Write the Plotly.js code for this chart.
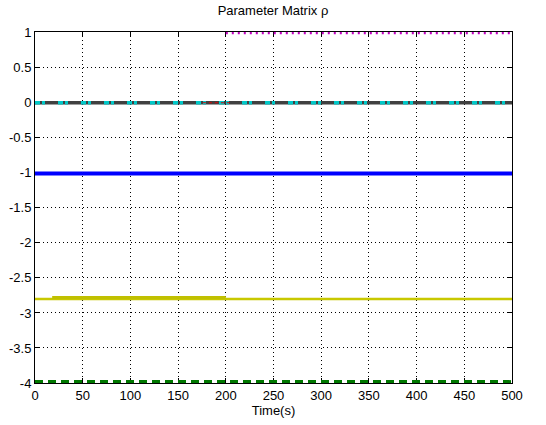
<!DOCTYPE html>
<html>
<head>
<meta charset="utf-8">
<script src="https://cdn.plot.ly/plotly-3.0.1.min.js"></script>
<style>
  html, body { margin: 0; padding: 0; background: #fff; }
  #plot { width: 546px; height: 425px; }
</style>
</head>
<body>
<div id="plot"></div>
<script>
// Estimated parameter traces over time (s)
const tFull = [0, 500];
const tLate = [200, 500];
const tYellowEarly = [18, 200];
const tRed = [176, 205];

const rho11 = [1, 1];          // magenta, t >= 200
const rho12 = [0, 0];          // dark gray
const rho13 = [0, 0];          // cyan
const rho14 = [0, 0];          // red (mostly hidden)
const rho21 = [-1.01, -1.01];  // blue
const rho22Base = [-2.8, -2.8];      // olive
const rho22Early = [-2.78, -2.78];   // olive, early transient
const rho23 = [-3.98, -3.98];  // green

const xTicks = [0, 50, 100, 150, 200, 250, 300, 350, 400, 450, 500];
const yTicks = [1, 0.5, 0, -0.5, -1, -1.5, -2, -2.5, -3, -3.5, -4];

const traces = [
  { x: tFull, y: rho12, mode: 'lines', line: { color: '#404040', width: 3.5 } },
  { x: tFull, y: rho13, mode: 'lines', line: { color: '#00c8c8', width: 3.5, dash: '5px,2px,3px,13px' } },
  { x: tRed, y: rho14, mode: 'lines', line: { color: '#e00000', width: 1, dash: 'dot' } },
  { x: tLate, y: rho11, mode: 'lines', line: { color: '#c000c0', width: 3, dash: '2px,4px' } },
  { x: tFull, y: rho21, mode: 'lines', line: { color: '#0000ff', width: 4 } },
  { x: tFull, y: rho22Base, mode: 'lines', line: { color: '#c8c800', width: 2.5 } },
  { x: tYellowEarly, y: rho22Early, mode: 'lines', line: { color: '#c0c000', width: 3 } },
  { x: tFull, y: rho23, mode: 'lines', line: { color: '#007800', width: 3, dash: '8px,5px' } }
];

const font = { family: 'Liberation Sans, Arial, sans-serif', size: 13, color: '#000' };

const axisCommon = {
  showgrid: true,
  gridcolor: '#000',
  gridwidth: 1,
  griddash: '1px,3px',
  zeroline: false,
  showline: true,
  linecolor: '#000',
  linewidth: 1,
  mirror: 'ticks',
  ticks: 'inside',
  ticklen: 5,
  tickcolor: '#000',
  layer: 'below traces',
  tickfont: font
};

const layout = {
  width: 546,
  height: 425,
  margin: { l: 35, r: 34, t: 32, b: 42 },
  paper_bgcolor: '#fff',
  plot_bgcolor: '#fff',
  showlegend: false,
  title: {
    text: 'Parameter Matrix ρ',
    font: font,
    x: 0.5, xanchor: 'center', y: 0.985, yanchor: 'top'
  },
  xaxis: Object.assign({}, axisCommon, {
    range: [0, 500],
    tickvals: xTicks,
    ticktext: xTicks.map(String),
    title: { text: 'Time(s)', font: font, standoff: 4 }
  }),
  yaxis: Object.assign({}, axisCommon, {
    range: [-4, 1.01],
    tickvals: yTicks,
    ticktext: yTicks.map(String)
  })
};

Plotly.newPlot('plot', traces, layout, { displayModeBar: false, staticPlot: true });
</script>
</body>
</html>
